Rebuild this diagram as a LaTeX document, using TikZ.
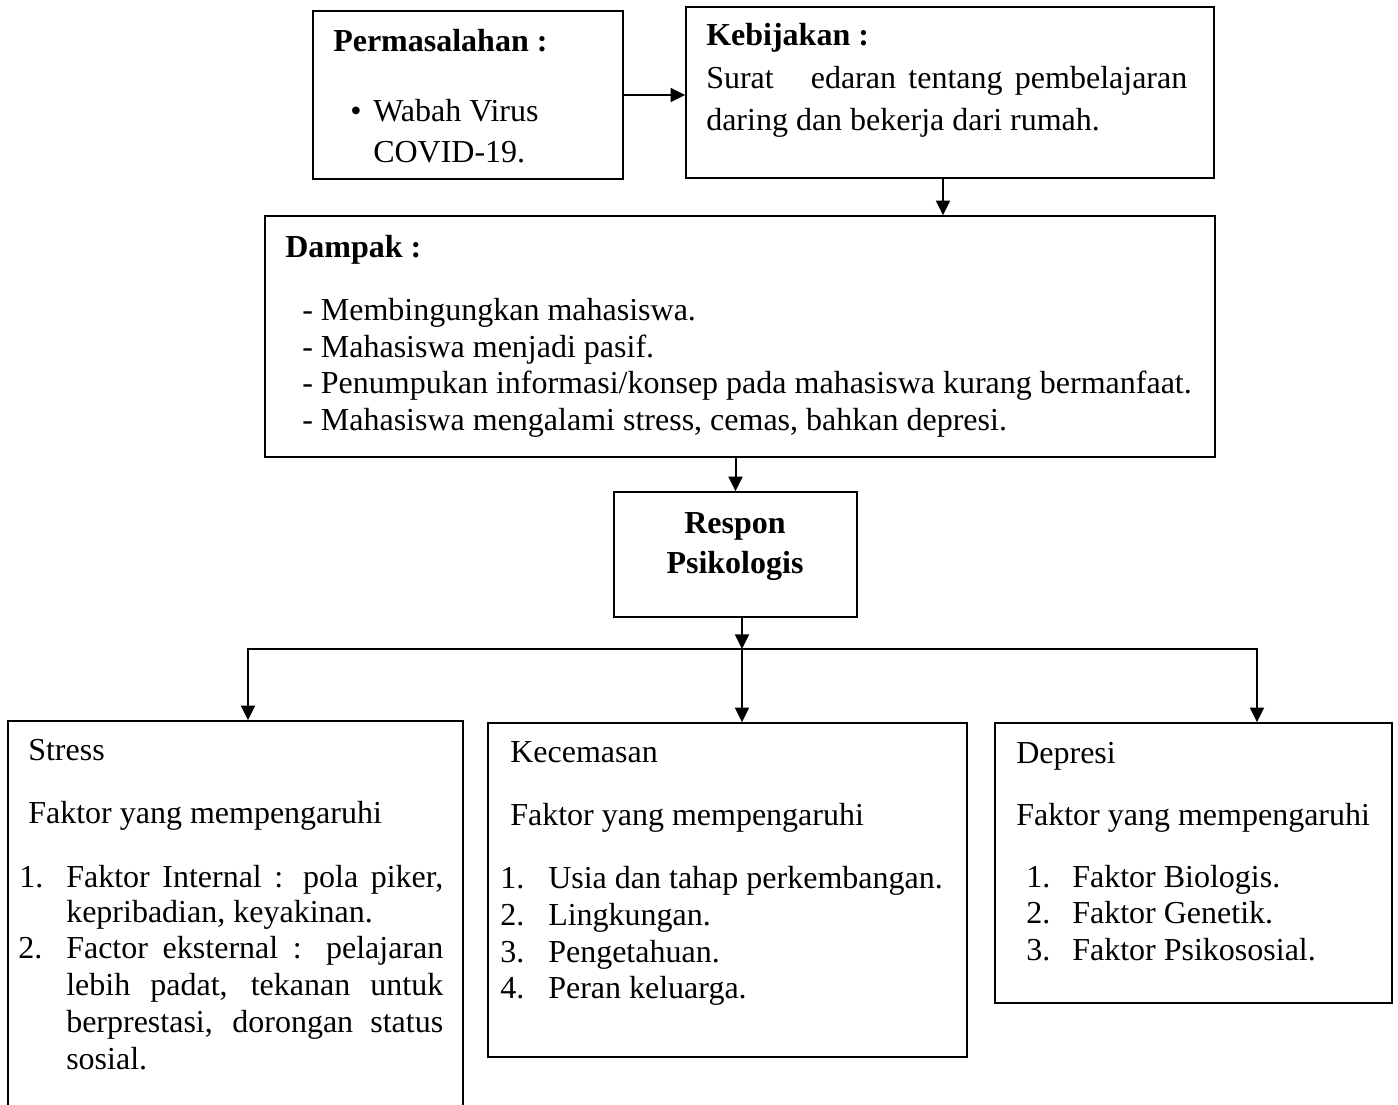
\documentclass[tikz,border=0pt]{standalone}
\usepackage{fontspec}
\setmainfont{Liberation Serif}
\usetikzlibrary{arrows.meta,fit}
\begin{document}
\begin{tikzpicture}[x=0.75pt,y=-0.75pt,
  box/.style={draw, line width=1.1pt, inner sep=0pt},
  arr/.style={line width=1.5pt, -{Triangle[length=11pt,width=10.5pt]}},
  bus/.style={line width=1.9pt},
  txt/.style={anchor=base west, inner sep=0pt, font=\fontsize{24}{28}\selectfont},
  ctxt/.style={anchor=base, inner sep=0pt, font=\fontsize{24}{28}\selectfont\bfseries}]
\useasboundingbox (0,0) rectangle (1398,1104);
\clip (0,0) rectangle (1398,1104);

% boxes
\node[box, fit={(313,11) (623,179)}] (perm) {};
\node[box, fit={(686,7) (1214,178)}] (keb) {};
\node[box, fit={(265,216) (1215,457)}] (dampak) {};
\node[box, fit={(614,492) (857,617)}] (respon) {};
\node[box, fit={(8,721) (463,1130)}] (stress) {};
\node[box, fit={(488,723) (967,1057)}] (kec) {};
\node[box, fit={(995,723) (1392,1003)}] (dep) {};

% Permasalahan
\node[txt, font=\fontsize{24}{28}\selectfont\bfseries] (pt) at (333,51) {Permasalahan :};
\node[txt] (pb) at (350,121) {•};
\node[txt] (p1) at (373,121) {Wabah Virus};
\node[txt] (p2) at (373,162) {COVID-19.};

% Kebijakan
\node[txt, font=\fontsize{24}{28}\selectfont\bfseries] (kt) at (706,45) {Kebijakan :};
\node[txt] (k1) at (706,88) {\makebox[360.75pt][s]{Surat \ \ edaran tentang pembelajaran}};
\node[txt] (k2) at (706,130) {daring dan bekerja dari rumah.};

% Dampak
\node[txt, font=\fontsize{24}{28}\selectfont\bfseries] (dt) at (285,257) {Dampak :};
\node[txt] (d1) at (302,320) {- Membingungkan mahasiswa.};
\node[txt] (d2) at (302,357) {- Mahasiswa menjadi pasif.};
\node[txt] (d3) at (302,393) {- Penumpukan informasi/konsep pada mahasiswa kurang bermanfaat.};
\node[txt] (d4) at (302,430) {- Mahasiswa mengalami stress, cemas, bahkan depresi.};

% Respon
\node[ctxt] (r1) at (735,533) {Respon};
\node[ctxt] (r2) at (735,573) {Psikologis};

% Stress
\node[txt] (s0) at (28,760) {Stress};
\node[txt] (s1) at (28,823) {Faktor yang mempengaruhi};
\node[txt] (sn1) at (19,887) {1.};
\node[txt] (sl1) at (66,887) {\makebox[282.75pt][s]{Faktor Internal : pola piker,}};
\node[txt] (sl2) at (66,922) {kepribadian, keyakinan.};
\node[txt] (sn2) at (18,958) {2.};
\node[txt] (sl3) at (66,958) {\makebox[282.75pt][s]{Factor eksternal : pelajaran}};
\node[txt] (sl4) at (66,995) {\makebox[282.75pt][s]{lebih padat, tekanan untuk}};
\node[txt] (sl5) at (66,1032) {\makebox[282.75pt][s]{berprestasi, dorongan status}};
\node[txt] (sl6) at (66,1069) {sosial.};

% Kecemasan
\node[txt] (c0) at (510,762) {Kecemasan};
\node[txt] (c1) at (510,825) {Faktor yang mempengaruhi};
\node[txt] (cn1) at (500,888) {1.};
\node[txt] (cl1) at (548,888) {Usia dan tahap perkembangan.};
\node[txt] (cn2) at (500,925) {2.};
\node[txt] (cl2) at (548,925) {Lingkungan.};
\node[txt] (cn3) at (500,962) {3.};
\node[txt] (cl3) at (548,962) {Pengetahuan.};
\node[txt] (cn4) at (500,998) {4.};
\node[txt] (cl4) at (548,998) {Peran keluarga.};

% Depresi
\node[txt] (e0) at (1016,763) {Depresi};
\node[txt] (e1) at (1016,825) {Faktor yang mempengaruhi};
\node[txt] (en1) at (1026,887) {1.};
\node[txt] (el1) at (1072,887) {Faktor Biologis.};
\node[txt] (en2) at (1026,923) {2.};
\node[txt] (el2) at (1072,923) {Faktor Genetik.};
\node[txt] (en3) at (1026,960) {3.};
\node[txt] (el3) at (1072,960) {Faktor Psikososial.};

% connectors
\coordinate (kx) at (943,0);
\coordinate (bl) at (248,649);
\coordinate (bm) at (742,649);
\coordinate (br) at (1257,649);

\draw[arr] (perm.east) -- (keb.west |- perm.east);
\draw[arr] (keb.south -| kx) -- (dampak.north -| kx);
\draw[arr] (dampak.south -| respon.north) -- (respon.north);
\draw[arr] (respon.south -| bm) -- (bm);
\draw[bus] ([xshift=-0.7pt]bl) -- ([xshift=0.7pt]br);
\draw[arr] (bl) -- (stress.north -| bl);
\draw[arr] (bm) -- (kec.north -| bm);
\draw[arr] (br) -- (dep.north -| br);
\end{tikzpicture}
\end{document}
